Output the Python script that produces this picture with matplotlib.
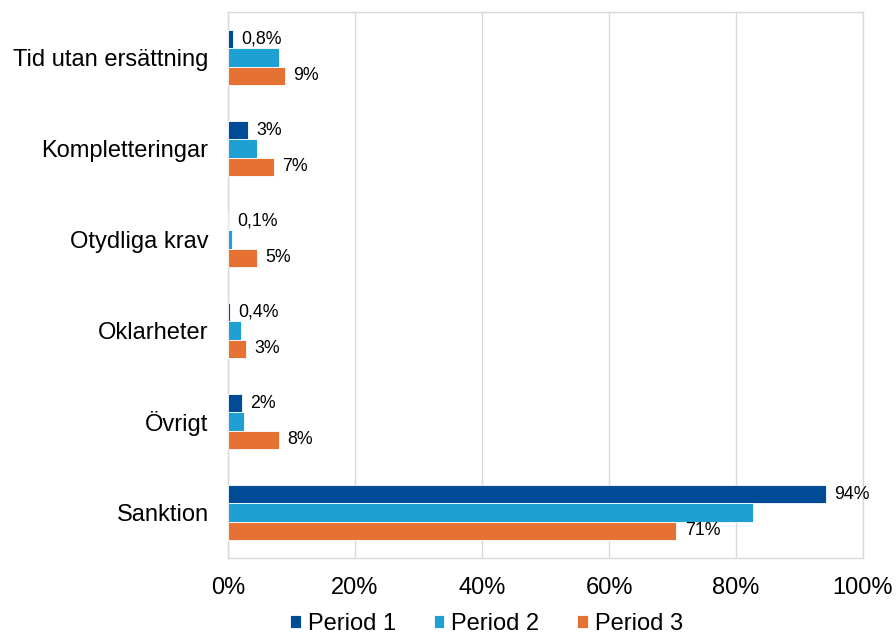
import numpy as np
import matplotlib
matplotlib.use("Agg")
import matplotlib.pyplot as plt

plt.rcParams['font.family'] = ['Liberation Sans', 'DejaVu Sans']

# Data (percent)
categories = ['Tid utan ersättning', 'Kompletteringar', 'Otydliga krav',
              'Oklarheter', 'Övrigt', 'Sanktion']
period1 = [0.8, 3.1, 0.1, 0.35, 2.2, 94.1]
period2 = [8.0, 4.5, 0.6, 2.1, 2.5, 82.6]
period3 = [9.0, 7.2, 4.6, 2.9, 8.0, 70.6]
labels1 = ['0,8%', '3%', '0,1%', '0,4%', '2%', '94%']
labels3 = ['9%', '7%', '5%', '3%', '8%', '71%']
xticks = [0, 20, 40, 60, 80, 100]

colors = ['#004B96', '#1FA0D3', '#E57232']
grey = '#D9D9D9'

fig = plt.figure(figsize=(8.96, 6.34), dpi=100)
ax = fig.add_axes([228 / 896, 1 - 558 / 634, 635 / 896, 546 / 634])

y = np.arange(len(categories))
h = 0.2

b1 = ax.barh(y - h, period1, height=h, color=colors[0], edgecolor='white',
             linewidth=0.6, label='Period 1', zorder=3)
b2 = ax.barh(y, period2, height=h, color=colors[1], edgecolor='white',
             linewidth=0.6, label='Period 2', zorder=3)
b3 = ax.barh(y + h, period3, height=h, color=colors[2], edgecolor='white',
             linewidth=0.6, label='Period 3', zorder=3)

ax.bar_label(b1, labels=labels1, padding=6, fontsize=12.8, color='black')
ax.bar_label(b3, labels=labels3, padding=6, fontsize=12.8, color='black')

ax.set_xlim(0, 100)
ax.set_ylim(len(categories) - 0.5, -0.5)
ax.set_yticks(y)
ax.set_yticklabels(categories, fontsize=17)
ax.set_xticks(xticks)
ax.set_xticklabels([f'{t}%' for t in xticks], fontsize=17)
ax.tick_params(axis='x', length=0, pad=14)
ax.tick_params(axis='y', length=0, pad=14)

ax.grid(axis='x', color=grey, linewidth=1, zorder=0)
for s in ax.spines.values():
    s.set_color(grey)
    s.set_linewidth(1)

ax.legend(loc='upper center', bbox_to_anchor=(0.407, -0.083), ncol=3,
          frameon=False, fontsize=17, handlelength=0.45, handleheight=0.45,
          handletextpad=0.3, columnspacing=1.6, borderaxespad=0)

fig.savefig('out.png', dpi=100)
